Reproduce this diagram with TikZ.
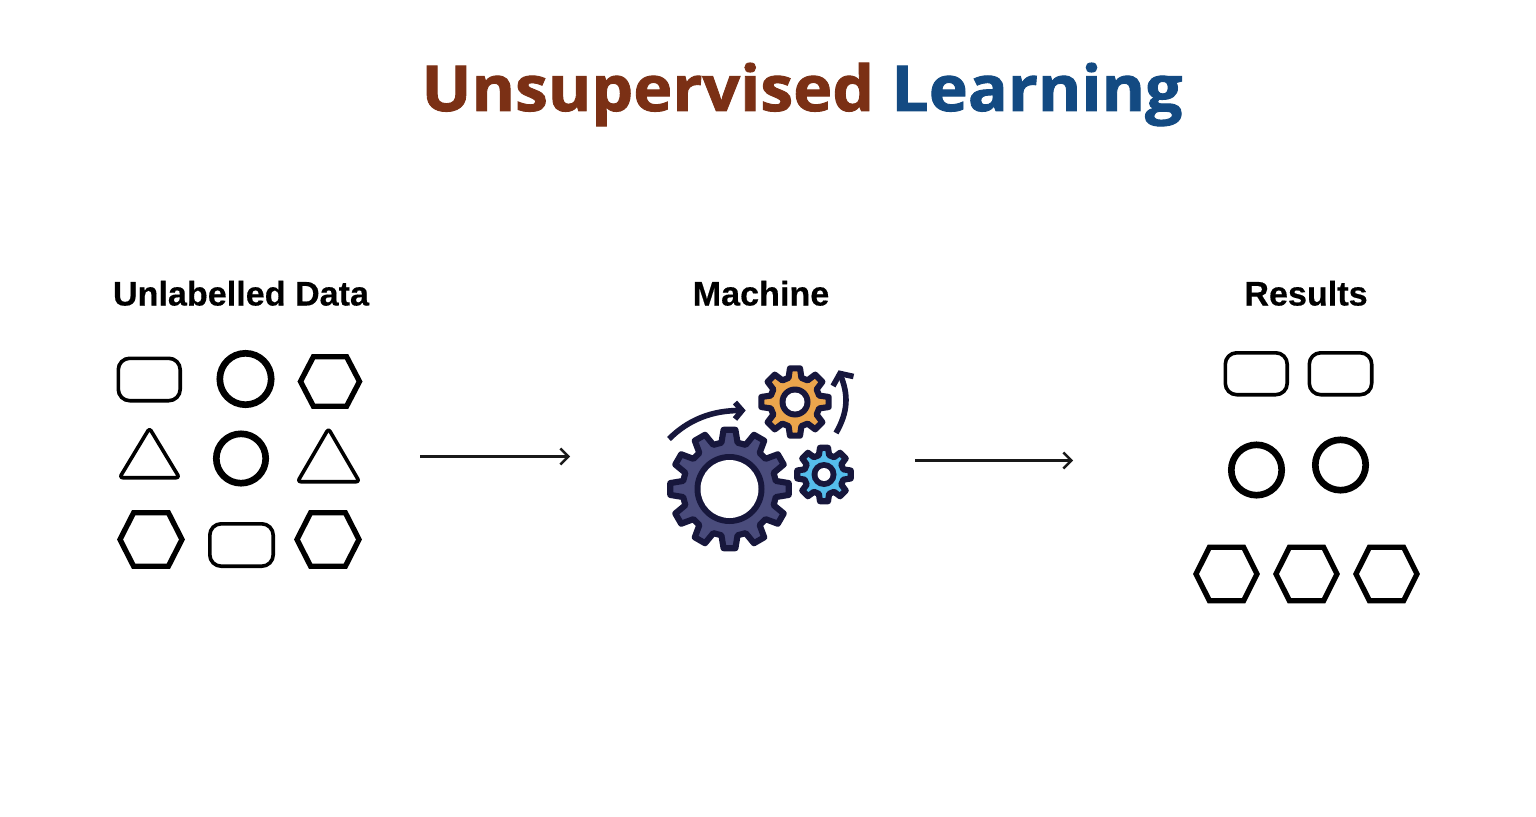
\documentclass[tikz,border=0pt]{standalone}
\usepackage{fontspec}
\usetikzlibrary{arrows.meta}
\setmainfont{Open Sans}
\newfontfamily\headfont{Liberation Sans}[BoldFeatures={FakeBold=0.4}]
\newfontfamily\titlefont{Open Sans}[BoldFeatures={FakeBold=1.4,FakeStretch=1.045}]
\definecolor{titlebrown}{HTML}{7B3015}
\definecolor{titleblue}{HTML}{134A82}
\definecolor{geardark}{HTML}{17173C}
\definecolor{gearmain}{HTML}{4A4C7C}
\definecolor{gearorange}{HTML}{EBA54C}
\definecolor{gearblue}{HTML}{55BDEB}
\tikzset{
  titletext/.style={anchor=base,font=\titlefont\bfseries\fontsize{47.5}{48}\selectfont,inner sep=0},
  headtext/.style={anchor=base,font=\headfont\bfseries\fontsize{25.6}{26}\selectfont,inner sep=0,text=black},
  thinshape/.style={draw=black,line width=2.7pt,line join=round},
  thickshape/.style={draw=black,line width=4pt,line join=miter},
  ringshape/.style={draw=black,line width=5pt},
  flow/.style={draw=black!90,line width=1.8pt,-{Straight Barb[length=6pt,width=12pt,line width=1.8pt]}},
  gearline/.style={draw=geardark,line width=4.6pt,line join=round},
  gearcurve/.style={draw=geardark,line width=4.2pt,line cap=butt},
  gearhead/.style={draw=geardark,line width=4.2pt,line join=miter}
}
\newcommand{\roundbox}[4]{\draw[thinshape,rounded corners=8.5pt] (#1+1.8,#2+1.8) rectangle (#3-1.8,#4-1.8);}
\newcommand{\hexa}[4]{\draw[thickshape]
  ({#1-#3/2+3},#2) -- ({#1-#3*0.255},{#2-#4/2+2.7}) -- ({#1+#3*0.255},{#2-#4/2+2.7}) --
  ({#1+#3/2-3},#2) -- ({#1+#3*0.255},{#2+#4/2-2.7}) -- ({#1-#3*0.255},{#2+#4/2-2.7}) -- cycle;}
\newcommand{\ringat}[3]{\draw[ringshape] (#1,#2) circle ({#3-3.3});}
\newcommand{\tri}[4]{\draw[thinshape,rounded corners=2.2pt] ({#1},{#2+1.2}) -- ({#3-1.6},{#4-1.8}) -- ({2*#1-#3+1.6},{#4-1.8}) -- cycle;}
\newcommand{\gear}[8]{
  \begin{scope}[shift={(#1,#2)}]
    \pgfmathsetmacro{\st}{360/#3}
    \gdef\gearpts{}
    \foreach \i in {1,...,#3}{
      \pgfmathsetmacro{\aa}{90+(\i-1)*\st-0.33*\st}
      \pgfmathsetmacro{\ab}{90+(\i-1)*\st-0.19*\st}
      \pgfmathsetmacro{\ac}{90+(\i-1)*\st+0.19*\st}
      \pgfmathsetmacro{\ad}{90+(\i-1)*\st+0.33*\st}
      \xdef\gearpts{\gearpts -- (\aa:#5) -- (\ab:#4) -- (\ac:#4) -- (\ad:#5)}
    }
    \pgfmathsetmacro{\az}{90-0.33*\st}
    \draw[gearline,fill=#8] (\az:#5) \gearpts -- cycle;
    \fill[geardark] (0,0) circle (#6);
    \fill[white] (0,0) circle (#7);
  \end{scope}
}
\begin{document}
\begin{tikzpicture}[x=0.75pt,y=-0.75pt]
\useasboundingbox (0,0) rectangle (1536,817);
\fill[white] (0,0) rectangle (1536,817);
\node[titletext] (title) at (802,111) {\textcolor{titlebrown}{Unsupervised} \textcolor{titleblue}{Learning}};
\node[headtext] (hdata) at (241,305.5) {Unlabelled Data};
\node[headtext] (hmachine) at (761,305.5) {Machine};
\node[headtext] (hresults) at (1306,305.5) {Results};
\roundbox{116.5}{356.5}{182}{402.5}
\ringat{245.5}{379}{29}
\hexa{330}{381.5}{65}{55}
\tri{149.5}{427}{181}{479.5}
\ringat{241}{458.5}{28}
\tri{328.5}{427.5}{361}{483.5}
\hexa{151}{539.5}{68}{59}
\roundbox{208}{522}{275}{568}
\hexa{328}{539.5}{68}{59}
\roundbox{1223.5}{351}{1289}{396.5}
\roundbox{1307.5}{351}{1373.5}{396.5}
\ringat{1256.5}{470}{28.5}
\ringat{1340.5}{465}{28.5}
\hexa{1226.5}{574}{67}{59}
\hexa{1306.5}{574}{67}{59}
\hexa{1386.5}{574}{67}{59}
\coordinate (inA) at (420,456.5);
\coordinate (inB) at (570,456.5);
\coordinate (outA) at (915,460.5);
\coordinate (outB) at (1073,460.5);
\draw[flow] (inA) -- (inB);
\draw[flow] (outA) -- (outB);
\gear{729.5}{489}{12}{59.5}{47}{35}{29}{gearmain}
\gear{795}{402}{8}{34}{25}{15.5}{9.5}{gearorange}
\gear{824}{474.5}{8}{27}{20}{12.5}{6.5}{gearblue}
\coordinate (c1a) at (669,439);
\coordinate (c1b) at (742,410.5);
\coordinate (c2a) at (836,433);
\coordinate (c2b) at (840,374);
\draw[gearcurve] (c1a) .. controls (688,420) and (712,410) .. (c1b);
\draw[gearhead] (735,402.5) -- (c1b) -- (735,419);
\draw[gearcurve] (c2a) .. controls (848,412) and (849,395) .. (c2b);
\draw[gearhead] (833,386) -- (840,373.5) -- (853.5,376.5);
\end{tikzpicture}
\end{document}
